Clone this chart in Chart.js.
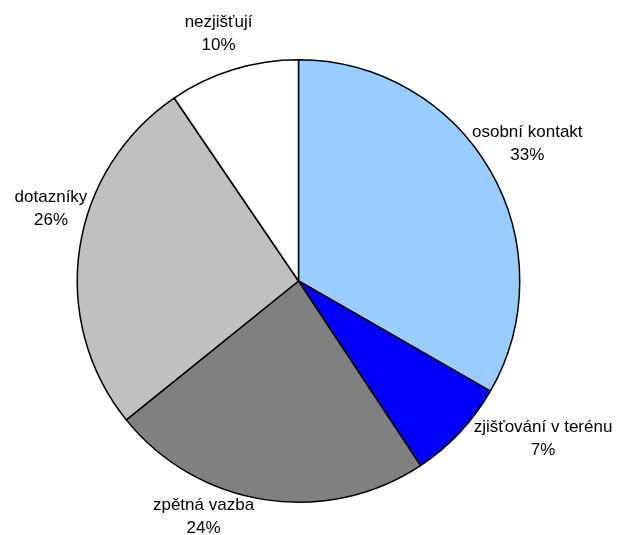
<!DOCTYPE html>
<html>
<head>
<meta charset="utf-8">
<script src="https://cdn.jsdelivr.net/npm/chart.js@4.4.1/dist/chart.umd.min.js"></script>
<style>
html,body{margin:0;padding:0;background:#fff;}
#wrap{width:621px;height:535px;position:relative;}
</style>
</head>
<body>
<div id="wrap"><canvas id="c" width="621" height="535"></canvas></div>
<script>
const categories = ["osobní kontakt", "zjišťování v terénu", "zpětná vazba", "dotazníky", "nezjišťují"];
const values = [33.3, 7.4, 23.5, 26.3, 9.5];
const colors = ["#99CCFF", "#0000FF", "#808080", "#C0C0C0", "#FFFFFF"];
// label placement: angle (deg, clockwise from top) and distance from centre in units of radius
const labelAngles = [59.1, 122.8, 201.9, 286.2, 342.1];
const labelDist = [1.205, 1.315, 1.151, 1.165, 1.176];

const labelPlugin = {
  id: 'excelLabels',
  afterDatasetsDraw(chart) {
    const ctx = chart.ctx;
    const meta = chart.getDatasetMeta(0);
    const total = values.reduce((a, b) => a + b, 0);
    ctx.save();
    ctx.font = '17px "Liberation Sans", Arial, sans-serif';
    ctx.fillStyle = '#000';
    ctx.textAlign = 'center';
    ctx.textBaseline = 'middle';
    meta.data.forEach((arc, i) => {
      const r = arc.outerRadius;
      const a = labelAngles[i] * Math.PI / 180;
      const cx = arc.x + Math.sin(a) * r * labelDist[i];
      const cy = arc.y - Math.cos(a) * r * labelDist[i];
      const pct = Math.round(values[i] / total * 100) + '%';
      ctx.fillText(categories[i], cx, cy - 11.5);
      ctx.fillText(pct, cx, cy + 11.5);
    });
    ctx.restore();
  }
};

new Chart(document.getElementById('c'), {
  type: 'pie',
  data: {
    labels: categories,
    datasets: [{
      data: values,
      backgroundColor: colors,
      borderColor: '#000',
      borderWidth: 1.5,
      borderAlign: 'center'
    }]
  },
  options: {
    responsive: false,
    animation: false,
    events: [],
    layout: { padding: { left: 76.5, right: 100.5, top: 59, bottom: 32 } },
    plugins: { legend: { display: false }, tooltip: { enabled: false } }
  },
  plugins: [labelPlugin]
});
</script>
</body>
</html>
